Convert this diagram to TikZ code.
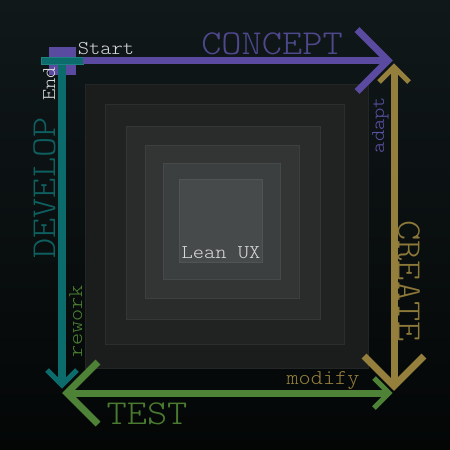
\documentclass[tikz,border=0pt]{standalone}
\usepackage{fontspec}
\newfontfamily\monof[FakeStretch=1.1]{Latin Modern Mono Light}
\definecolor{bgtop}{RGB}{16,24,26}
\definecolor{bgbot}{RGB}{4,6,6}
\definecolor{cpurple}{RGB}{90,74,160}
\definecolor{cteal}{RGB}{12,108,108}
\definecolor{cgreen}{RGB}{78,130,54}
\definecolor{cgold}{RGB}{148,128,60}
\definecolor{tpurple}{RGB}{78,72,140}
\definecolor{tteal}{RGB}{14,96,96}
\definecolor{tgreen}{RGB}{74,122,48}
\definecolor{tgold}{RGB}{140,120,56}
\definecolor{lpurple}{RGB}{92,82,165}
\definecolor{lgreen}{RGB}{76,128,50}
\definecolor{lgold}{RGB}{150,128,60}
\definecolor{ltext}{RGB}{216,216,216}
\definecolor{fa}{RGB}{27,29,29}\definecolor{da}{RGB}{36,38,38}
\definecolor{fb}{RGB}{33,35,35}\definecolor{db}{RGB}{44,46,46}
\definecolor{fc}{RGB}{42,44,44}\definecolor{dc}{RGB}{53,55,55}
\definecolor{fd}{RGB}{51,53,53}\definecolor{dd}{RGB}{61,63,63}
\definecolor{fe}{RGB}{60,63,63}\definecolor{de}{RGB}{70,73,73}
\definecolor{ff}{RGB}{70,74,74}\definecolor{df}{RGB}{80,84,84}
\tikzset{
  phase/.style={font=\monof\fontsize{35}{35}\selectfont, inner sep=0pt},
  lbl/.style={font=\monof\fontsize{19.5}{19.5}\selectfont, inner sep=0pt},
  lblb/.style={font=\monof\fontsize{21}{21}\selectfont, inner sep=0pt},
  bigline/.style={line width=7pt, line cap=butt, line join=miter},
  smallhead/.style={line width=5pt, line cap=butt, line join=miter},
  layer/.style={line width=1pt},
}
\begin{document}
\begin{tikzpicture}[x=1pt,y=-1pt]
\useasboundingbox (0,0) rectangle (450,450);
\shade[top color=bgtop, bottom color=bgbot] (0,0) rectangle (450,450);
% nested layers
\draw[layer, fill=fa, draw=da] (85,84) rectangle (368,368);
\draw[layer, fill=fb, draw=db] (105,104) rectangle (344,344);
\draw[layer, fill=fc, draw=dc] (126,126) rectangle (320,319);
\draw[layer, fill=fd, draw=dd] (145,145) rectangle (299,298);
\draw[layer, fill=fe, draw=de] (163,163) rectangle (280,279);
\draw[layer, fill=ff, draw=df] (179,179) rectangle (262,262);
\node[lbl, text=ltext, anchor=base] (lean) at (221,258) {Lean UX};
% start square
\node[fill=cpurple, minimum width=27pt, minimum height=28pt, inner sep=0pt, anchor=north west] (startsq) at (49,47) {};
% coordinates
\coordinate (pS) at (83,60.5);
\coordinate (pT) at (388,60.5);
\coordinate (pA1) at (357,29.5);
\coordinate (pA2) at (357,91.5);
\coordinate (tS) at (62,64);
\coordinate (tT) at (62,385);
\coordinate (tA1) at (47,370);
\coordinate (tA2) at (77,370);
\coordinate (gL) at (67,393);
\coordinate (gR) at (389,393);
\coordinate (gA1) at (98,362);
\coordinate (gA2) at (98,424);
\coordinate (gB1) at (374,378);
\coordinate (gB2) at (374,408);
\coordinate (oT) at (394,67);
\coordinate (oB) at (394,386);
\coordinate (oA1) at (364,356);
\coordinate (oA2) at (424,356);
\coordinate (oB1) at (379,82);
\coordinate (oB2) at (409,82);
% develop (teal)
\draw[cteal, line width=8pt] (tS) -- (tT);
\draw[cteal, smallhead] (tA1) -- (tT) -- (tA2);
% end bar
\node[fill=cteal, draw={rgb,255:red,30;green,130;blue,130}, line width=0.6pt, minimum width=42pt, minimum height=7pt, inner sep=0pt, anchor=north west] (endbar) at (41,57) {};
% concept (purple)
\draw[cpurple, bigline] (pS) -- (pT);
\draw[cpurple, bigline] (pA1) -- (pT) -- (pA2);
% create (gold)
\draw[cgold, bigline] (oT) -- (oB);
\draw[cgold, bigline] (oA1) -- (oB) -- (oA2);
\draw[cgold, smallhead] (oB1) -- (oT) -- (oB2);
% test (green)
\draw[cgreen, bigline] (gL) -- (gR);
\draw[cgreen, bigline] (gA1) -- (gL) -- (gA2);
\draw[cgreen, smallhead] (gB1) -- (gR) -- (gB2);
% phase labels
\node[phase, text=tpurple, anchor=base] (concept) at (272,54) {CONCEPT};
\node[phase, text=tteal, anchor=base, rotate=90] (develop) at (55,188) {DEVELOP};
\node[phase, text=tgold, anchor=base, rotate=-90] (create) at (398,281) {CREATE};
\node[phase, text=tgreen, anchor=base] (test) at (147,424) {TEST};
% small labels
\node[lbl, text=ltext, anchor=base] (start) at (106,54) {Start};
\node[lbl, text=ltext, anchor=base, rotate=90] (endl) at (55,84) {End};
\node[lbl, text=lpurple, anchor=base, rotate=90] (adapt) at (384,125) {adapt};
\node[lblb, text=lgreen, anchor=base, rotate=90] (rework) at (82,321.5) {rework};
\node[lblb, text=lgold, anchor=base] (modify) at (323,384) {modify};
\end{tikzpicture}
\end{document}
